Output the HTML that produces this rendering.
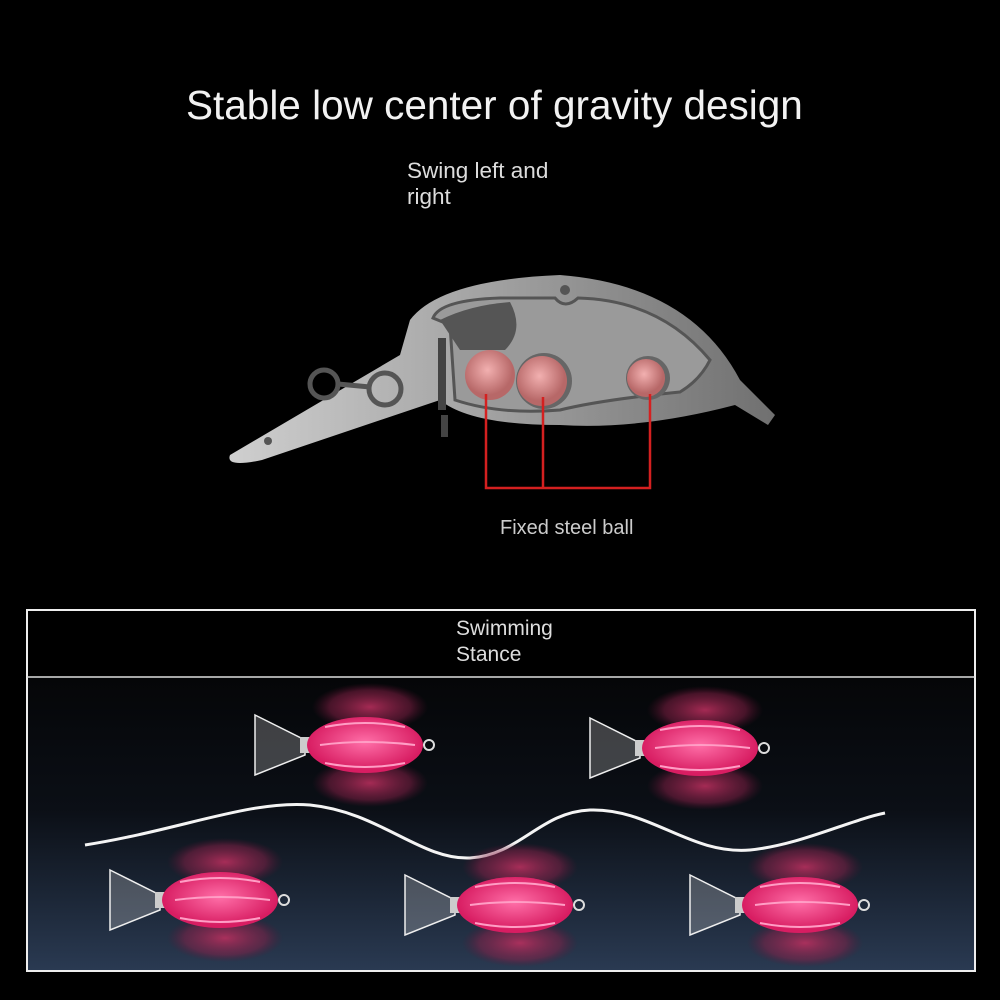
<!DOCTYPE html>
<html><head><meta charset="utf-8"><style>
body{margin:0;background:#000;width:1000px;height:1000px;overflow:hidden;font-family:"Liberation Sans",sans-serif;}
.t{position:absolute;color:#eee;}
</style></head><body>
<div class="t" style="left:186px;top:82px;font-size:40.5px;color:#f2f2f2">Stable low center of gravity design</div>
<div class="t" style="left:407px;top:158px;font-size:22.5px;line-height:26px;color:#ddd">Swing left and<br>right</div>
<div class="t" style="left:500px;top:517px;font-size:20px;color:#ccc">Fixed steel ball</div>
<svg width="1000" height="1000" style="position:absolute;left:0;top:0">
<defs>
<linearGradient id="body" x1="0" x2="1"><stop offset="0" stop-color="#cfcfcf"/><stop offset="1" stop-color="#707070"/></linearGradient>
<radialGradient id="ball" cx="0.45" cy="0.4"><stop offset="0" stop-color="#f2b0b0"/><stop offset="1" stop-color="#b76868"/></radialGradient>
<linearGradient id="water" x1="0" y1="0" x2="0" y2="1"><stop offset="0" stop-color="#050608"/><stop offset="0.45" stop-color="#0b0f16"/><stop offset="1" stop-color="#2a3a52"/></linearGradient>
<radialGradient id="pink" cx="0.5" cy="0.45"><stop offset="0" stop-color="#ff6fa8"/><stop offset="1" stop-color="#d81d62"/></radialGradient>
<radialGradient id="blur" cx="0.5" cy="0.5"><stop offset="0" stop-color="#c03060" stop-opacity="0.85"/><stop offset="0.7" stop-color="#8a2048" stop-opacity="0.5"/><stop offset="1" stop-color="#601030" stop-opacity="0"/></radialGradient>
<g id="lure">
<ellipse cx="5" cy="-38" rx="58" ry="24" fill="url(#blur)"/>
<ellipse cx="5" cy="38" rx="58" ry="24" fill="url(#blur)"/>
<path d="M-110,-30 L-60,-5 L-60,10 L-110,30 Z" fill="#e8e8e8" fill-opacity="0.25" stroke="#eee" stroke-width="1.5"/>
<rect x="-65" y="-8" width="25" height="16" fill="#ccc"/>
<ellipse cx="0" cy="0" rx="58" ry="28" fill="url(#pink)"/>
<path d="M-40,-18 Q0,-26 40,-18 M-45,0 Q0,-6 50,0 M-40,18 Q0,26 40,18" stroke="#ff9ec5" stroke-width="2" fill="none"/>
<circle cx="64" cy="0" r="5" fill="none" stroke="#ddd" stroke-width="2"/>
</g>
</defs>
<path d="M230,455 L400,355 L410,320 Q440,280 560,275 Q690,285 740,380 L775,415 L768,425 L735,405 Q640,430 560,425 Q470,425 440,400 L262,460 Q225,468 230,455 Z" fill="url(#body)"/>
<path d="M433,318 Q440,300 500,298 L555,298 Q565,310 578,298 Q660,300 710,360 Q700,380 680,392 Q600,400 560,410 Q500,415 455,400 L450,325 Z" fill="#9a9a9a" stroke="#555" stroke-width="3"/>
<path d="M440,320 Q470,305 510,302 Q525,330 505,350 L460,350 Z" fill="#555"/>
<circle cx="565" cy="290" r="5" fill="#555"/>
<circle cx="268" cy="441" r="4" fill="#555"/>
<rect x="438" y="338" width="8" height="72" fill="#444"/><rect x="441" y="415" width="7" height="22" fill="#444"/>
<circle cx="324" cy="384" r="14" fill="none" stroke="#555" stroke-width="5"/>
<circle cx="385" cy="389" r="16" fill="none" stroke="#555" stroke-width="5"/>
<line x1="338" y1="384" x2="370" y2="387" stroke="#555" stroke-width="5"/>
<circle cx="544" cy="381" r="28" fill="#666"/>
<circle cx="490" cy="375" r="25" fill="url(#ball)"/>
<circle cx="542" cy="381" r="25" fill="url(#ball)"/>
<circle cx="648" cy="378" r="22" fill="#666"/>
<circle cx="646" cy="378" r="19" fill="url(#ball)"/>
<path d="M486,394 V488 H650 V394 M543,397 V488" stroke="#d42020" stroke-width="2.5" fill="none"/>
<rect x="27" y="677" width="948" height="294" fill="url(#water)"/>
<rect x="27" y="610" width="948" height="361" fill="none" stroke="#eee" stroke-width="2"/>
<line x1="27" y1="677" x2="975" y2="677" stroke="#ddd" stroke-width="1.5"/>
<path d="M85,845 C180,830 250,800 310,805 C380,812 420,860 470,858 C520,855 540,812 590,810 C650,808 690,855 750,850 C800,845 850,820 885,813" stroke="#f4f4f4" stroke-width="3" fill="none"/>
<use href="#lure" x="365" y="745"/>
<use href="#lure" x="700" y="748"/>
<use href="#lure" x="220" y="900"/>
<use href="#lure" x="515" y="905"/>
<use href="#lure" x="800" y="905"/>
</svg>
<div class="t" style="left:456px;top:616px;font-size:21px;line-height:26px;color:#ddd">Swimming<br>Stance</div>
</body></html>
